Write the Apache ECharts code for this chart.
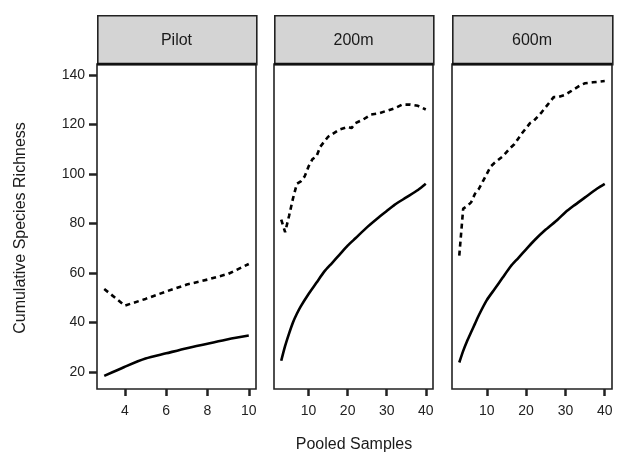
<!DOCTYPE html>
<html>
<head>
<meta charset="utf-8">
<script src="https://cdn.jsdelivr.net/npm/echarts@6/dist/echarts.min.js"></script>
<style>html,body{margin:0;padding:0;background:#fff}#c{width:622px;height:453px}</style>
</head>
<body>
<div id="c"></div>
<script>
// ---- data ----
const panelNames = ['Pilot', '200m', '600m'];
const yTicks = [20, 40, 60, 80, 100, 120, 140];
const xTicksPilot = [4, 6, 8, 10];
const xTicksSite = [10, 20, 30, 40];

const pilotX = [3, 4, 5, 6, 7, 8, 9, 10];
const pilotObs = [18.4, 22.1, 25.4, 27.5, 29.6, 31.4, 33.2, 34.7];
const pilotEst = [53.5, 46.8, 49.5, 52.5, 55.3, 57.3, 59.6, 63.6];

const m200ObsX = [3, 4, 5, 6, 7, 8, 10, 12, 14, 16, 18, 20, 22, 25, 28, 30, 32, 35, 38, 40];
const m200Obs = [24.5, 30.5, 35.5, 40, 43.5, 46.5, 51.5, 56, 60.5, 64, 67.5, 71, 74, 78.5, 82.5, 85, 87.5, 90.5, 93.5, 96];
const m200EstX = [3, 4, 5, 6, 7, 8, 9, 10, 11, 12, 13, 14, 15, 16, 18, 20, 21, 22, 24, 26, 28, 30, 32, 34, 36, 38, 40];
const m200Est = [81.5, 76.5, 83, 90, 96, 97, 99, 103, 106, 107, 111, 113, 115, 116, 118, 119, 118.5, 120.5, 122, 124, 124.5, 125.5, 126.5, 128, 128, 127.5, 126];

const m600ObsX = [3, 4, 5, 6, 7, 8, 10, 12, 14, 16, 18, 20, 22, 25, 28, 30, 32, 35, 38, 40];
const m600Obs = [23.8, 28.5, 32.5, 36, 39.5, 43, 49, 53.5, 58, 62.5, 66, 69.5, 73, 77.5, 81.5, 84.5, 87, 90.5, 94, 96];
const m600EstX = [3, 4, 5, 6, 7, 8, 9, 10, 11, 12, 14, 16, 17, 19, 21, 22, 24, 26, 27, 28, 30, 31, 32, 34, 35, 37, 40];
const m600Est = [67, 86, 87, 88.5, 92, 94, 97, 100, 103, 104.5, 107, 110.5, 112, 116.5, 120.5, 121.5, 125, 129, 131, 131, 132, 133, 134, 136, 136.6, 137, 137.5];

// ---- layout ----
const FONT = '"Liberation Sans", Arial, sans-serif';
const panels = [
  { left: 97, width: 159, xmin: 2.65, xmax: 10.35, ticks: xTicksPilot },
  { left: 274, width: 159, xmin: 1.15, xmax: 41.85, ticks: xTicksSite },
  { left: 452, width: 160, xmin: 1.15, xmax: 41.85, ticks: xTicksSite }
];
const TOP = 64, HEIGHT = 325, HEAD_TOP = 15;
const YMIN = 13.1, YMAX = 144.4;

const zip = (xs, ys) => xs.map((x, i) => [x, ys[i]]);

const grid = panels.map(p => ({
  left: p.left, top: TOP, width: p.width, height: HEIGHT,
  show: true, borderColor: '#222', borderWidth: 1.6, backgroundColor: '#fff'
}));

const xAxis = panels.map((p, i) => ({
  type: 'value', gridIndex: i, min: p.xmin, max: p.xmax,
  splitLine: { show: false },
  axisLine: { show: false },
  axisTick: { show: true, customValues: p.ticks, length: 7, lineStyle: { color: '#222', width: 2.5 } },
  axisLabel: { show: true, customValues: p.ticks, color: '#222', fontSize: 14, fontFamily: FONT, margin: 15 }
}));

const yAxis = panels.map((p, i) => ({
  type: 'value', gridIndex: i, min: YMIN, max: YMAX,
  splitLine: { show: false },
  axisLine: { show: false },
  axisTick: { show: i === 0, customValues: yTicks, length: 8, lineStyle: { color: '#222', width: 2.5 } },
  axisLabel: { show: i === 0, customValues: yTicks, color: '#222', fontSize: 14, fontFamily: FONT, margin: 12 }
}));

function lineSeries(idx, data, dashed) {
  return {
    type: 'line', xAxisIndex: idx, yAxisIndex: idx, data: data,
    showSymbol: false, smooth: dashed ? false : 0.25, animation: false,
    lineStyle: { color: '#000', width: 2.6, type: dashed ? [5, 4] : 'solid', cap: 'butt' }
  };
}

const series = [
  lineSeries(0, zip(pilotX, pilotObs), false),
  lineSeries(0, zip(pilotX, pilotEst), true),
  lineSeries(1, zip(m200ObsX, m200Obs), false),
  lineSeries(1, zip(m200EstX, m200Est), true),
  lineSeries(2, zip(m600ObsX, m600Obs), false),
  lineSeries(2, zip(m600EstX, m600Est), true)
];

const graphic = [];
panels.forEach((p, i) => {
  graphic.push({
    type: 'rect', left: p.left, top: HEAD_TOP, z: 10,
    shape: { x: 0, y: 0, width: p.width, height: TOP - HEAD_TOP },
    style: { fill: '#d4d4d4', stroke: '#222', lineWidth: 1.6 }
  });
  graphic.push({
    type: 'line', z: 11,
    shape: { x1: p.left, y1: TOP, x2: p.left + p.width, y2: TOP },
    style: { stroke: '#111', lineWidth: 2.5 }
  });
  graphic.push({
    type: 'text', z: 12, x: p.left + p.width / 2, y: (HEAD_TOP + TOP) / 2 + 1,
    style: { text: panelNames[i], fill: '#1a1a1a', font: '16px ' + FONT, align: 'center', verticalAlign: 'middle' }
  });
});
graphic.push({
  type: 'text', z: 12, x: 354, y: 445,
  style: { text: 'Pooled Samples', fill: '#1a1a1a', font: '16px ' + FONT, align: 'center', verticalAlign: 'middle' }
});
graphic.push({
  type: 'text', z: 12, x: 21, y: 228, rotation: Math.PI / 2,
  style: { text: 'Cumulative Species Richness', fill: '#1a1a1a', font: '16px ' + FONT, align: 'center', verticalAlign: 'middle' }
});

const chart = echarts.init(document.getElementById('c'), null, { renderer: 'canvas' });
chart.setOption({
  backgroundColor: '#fff',
  animation: false,
  grid, xAxis, yAxis, series, graphic
});
</script>
</body>
</html>
